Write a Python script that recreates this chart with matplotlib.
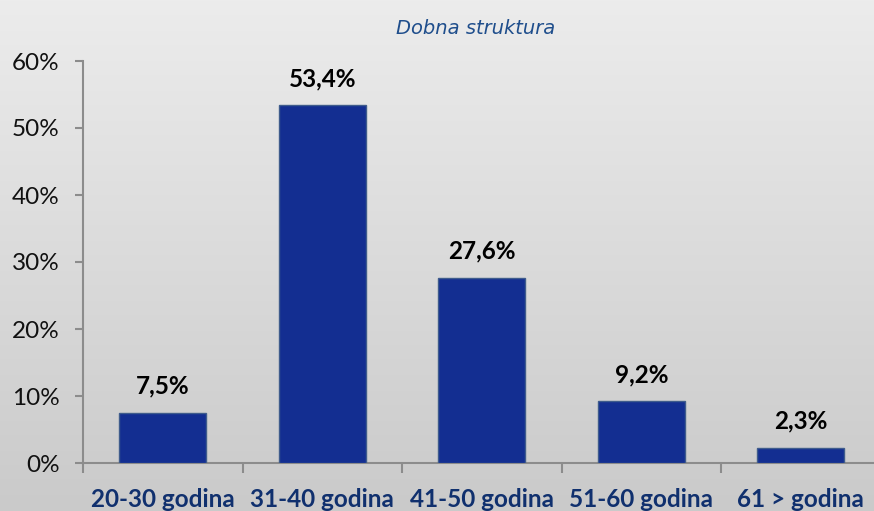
import numpy as np
import matplotlib
matplotlib.use("Agg")
import matplotlib.pyplot as plt
from matplotlib.ticker import FuncFormatter

categories = ["20-30 godina", "31-40 godina", "41-50 godina", "51-60 godina", "61 > godina"]
values = [7.5, 53.4, 27.6, 9.2, 2.3]
value_labels = ["7,5%", "53,4%", "27,6%", "9,2%", "2,3%"]
title = "Dobna struktura"

W, H = 874, 511
fig = plt.figure(figsize=(W / 100, H / 100), dpi=100)

# gradient background
bg = fig.add_axes([0, 0, 1, 1], zorder=-10)
grad = np.linspace(0, 1, 256).reshape(-1, 1)
top = np.array([236, 236, 236]) / 255
bot = np.array([202, 202, 202]) / 255
img = top + (bot - top) * grad[:, :, None] * np.ones((1, 1, 3))
bg.imshow(img, aspect="auto", extent=[0, 1, 0, 1], origin="upper")
bg.axis("off")

left = 83 / W
right = 880.5 / W
bottom = 1 - 463 / H
topf = 1 - 61 / H
ax = fig.add_axes([left, bottom, right - left, topf - bottom])
ax.set_facecolor("none")

x = np.arange(len(categories))
ax.bar(x, values, width=0.545, color="#132E91", edgecolor="#3F5C8C", linewidth=1.0, zorder=3)
ax.set_xlim(-0.5, len(categories) - 0.5)
ax.set_ylim(0, 60)
ax.set_yticks(np.arange(0, 61, 10))
ax.yaxis.set_major_formatter(FuncFormatter(lambda v, p: f"{int(v)}%"))

for s in ["top", "right"]:
    ax.spines[s].set_visible(False)
for s in ["left", "bottom"]:
    ax.spines[s].set_color("#8C8C8C")
    ax.spines[s].set_linewidth(1.5)

ax.set_xticks(np.arange(-0.5, len(categories), 1.0), minor=False)
ax.set_xticklabels([])
ax.set_xticks(x, minor=True)
ax.set_xticklabels(categories, minor=True, fontfamily="Lato", fontweight="bold",
                   fontsize=17.5, color="#10306E")
ax.tick_params(axis="x", which="major", length=7, color="#8C8C8C", width=1.5)
ax.tick_params(axis="x", which="minor", length=0, pad=18)
ax.tick_params(axis="y", length=6, color="#8C8C8C", width=1.5, labelsize=17.5, pad=11)
for lab in ax.get_yticklabels():
    lab.set_fontfamily("Lato")
    lab.set_color("#111111")

for xi, v, lab in zip(x, values, value_labels):
    ax.annotate(lab, (xi, v), xytext=(0, 11), textcoords="offset points",
                ha="center", va="bottom", fontfamily="Lato", fontweight="bold",
                fontsize=17.5, color="#000000")

fig.text(476 / W, 1 - 28 / H, title, ha="center", va="center", fontsize=14,
         style="italic", color="#1F4E8C", fontfamily="DejaVu Sans")

fig.savefig("out.png", dpi=100)
